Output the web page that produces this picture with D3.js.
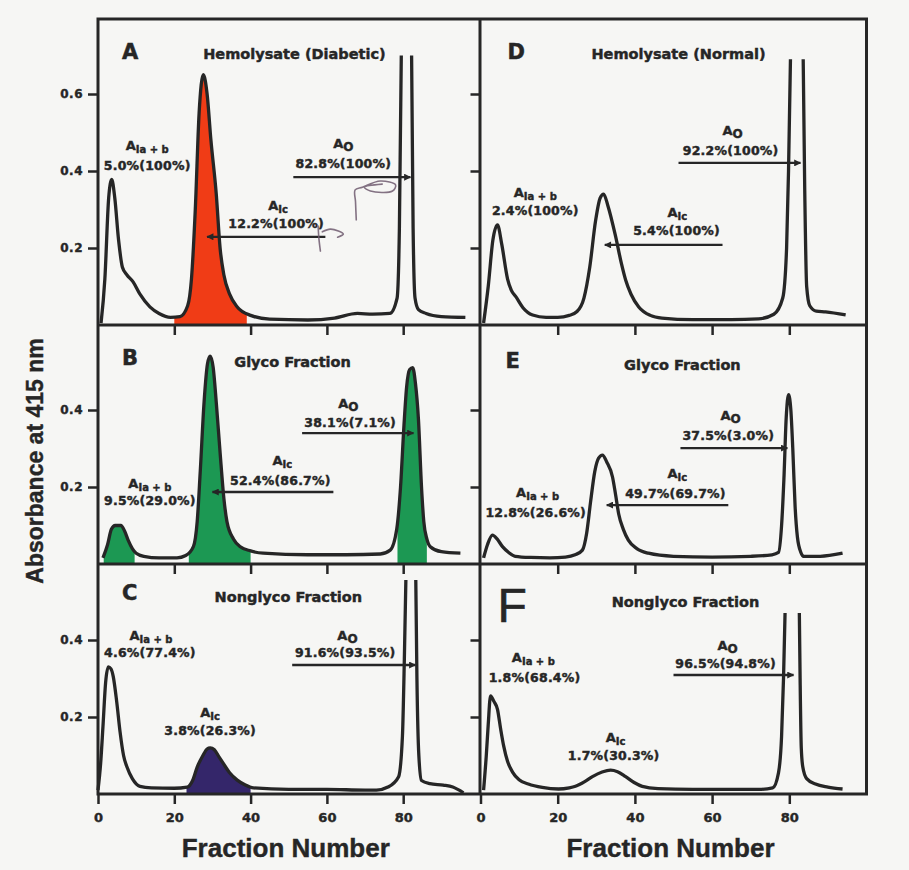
<!DOCTYPE html>
<html>
<head>
<meta charset="utf-8">
<script src="https://cdn.jsdelivr.net/npm/d3@7"></script>
<style>
  html, body { margin: 0; padding: 0; background: #f6f6f4; }
  svg { display: block; }
</style>
</head>
<body>
<svg id="fig" width="909" height="870"></svg>
<script>
// ---- Elution profiles: [fraction number, absorbance at 415 nm]; null breaks an off-scale peak ----
const curveA = [[0.8,0.005],[1.8,0.12],[2.8,0.33],[3.6,0.378],[4.4,0.33],[5.4,0.22],[6.4,0.15],[7.6,0.13],[9.2,0.112],[11,0.08],[13.6,0.047],[16,0.03],[19,0.02],[21.5,0.022],[23.5,0.05],[24.5,0.12],[25.5,0.3],[26.5,0.55],[27.6,0.65],[28.6,0.6],[29.6,0.48],[31,0.34],[32,0.2],[33,0.13],[34.5,0.08],[36.5,0.047],[40,0.025],[45,0.015],[55,0.013],[62,0.018],[68,0.03],[72,0.028],[76.5,0.03],[78.4,0.07],[79.0,0.25],[79.5,0.70],[80.8,null],[82.2,0.70],[82.6,0.25],[83.1,0.07],[84,0.04],[86,0.03],[90,0.022],[96.3,0.02]];
const curveB = [[1.3,0.016],[2.5,0.05],[3.5,0.09],[4.5,0.1],[6,0.1],[7,0.085],[7.9,0.062],[9,0.04],[10,0.028],[12,0.02],[16,0.016],[20.7,0.016],[23,0.022],[25,0.045],[26,0.11],[26.8,0.24],[27.8,0.42],[28.7,0.52],[29.4,0.54],[30.2,0.51],[31,0.42],[32,0.29],[33,0.17],[33.8,0.11],[35.5,0.065],[37.3,0.045],[40,0.034],[43.3,0.028],[55,0.024],[65,0.024],[74,0.026],[76.6,0.036],[78.3,0.09],[79.3,0.2],[80.2,0.36],[80.9,0.46],[81.7,0.505],[82.5,0.51],[83.2,0.47],[84,0.375],[84.8,0.2],[85.4,0.11],[86.2,0.065],[87.1,0.045],[90,0.032],[95,0.028]];
const curveC = [[0,0.01],[0.7,0.08],[1.3,0.175],[2,0.29],[2.7,0.33],[3.4,0.325],[4,0.305],[4.9,0.24],[5.8,0.16],[6.7,0.1],[7.6,0.07],[9,0.04],[11,0.02],[14,0.016],[20,0.015],[23.4,0.018],[24.8,0.035],[26,0.07],[27.5,0.1],[28.6,0.117],[29.4,0.12],[30.5,0.115],[31.8,0.095],[32.8,0.08],[34.5,0.055],[36.5,0.036],[38.5,0.024],[40.7,0.016],[50,0.012],[60,0.012],[70,0.01],[73,0.01],[76,0.018],[78.8,0.045],[79.8,0.15],[80.3,0.35],[80.7,0.556],[82,null],[83.3,0.556],[83.6,0.3],[84.1,0.1],[84.8,0.035],[87,0.027],[90.5,0.023],[93,0.018],[95.8,0.003]];
const curveD = [[0.8,0.005],[2,0.1],[3.2,0.22],[4.4,0.26],[5.5,0.21],[7,0.12],[8,0.09],[9.2,0.073],[11,0.045],[13.5,0.026],[17,0.02],[20,0.02],[23,0.025],[25,0.035],[26.8,0.07],[28.3,0.15],[29.8,0.27],[31,0.33],[31.9,0.34],[33,0.31],[35,0.23],[36.5,0.16],[37.6,0.117],[39,0.08],[41,0.047],[44,0.025],[47,0.018],[55,0.014],[65,0.014],[72,0.016],[76,0.028],[78.3,0.07],[79.3,0.2],[79.8,0.4],[80.3,0.69],[82,null],[83.6,0.69],[84.0,0.35],[84.5,0.1],[85.3,0.05],[87,0.036],[89.4,0.034],[94.6,0.026]];
const curveE = [[0.8,0.016],[1.8,0.05],[3.1,0.075],[4.3,0.065],[5.7,0.045],[7.3,0.03],[9,0.02],[13,0.017],[18,0.016],[22,0.018],[24.5,0.024],[26.4,0.036],[27.5,0.08],[28.5,0.16],[29.6,0.24],[30.6,0.275],[31.6,0.283],[32.7,0.265],[34.2,0.226],[35,0.18],[35.8,0.13],[37,0.09],[38.3,0.062],[40.5,0.04],[43.5,0.028],[50,0.02],[60,0.018],[70,0.02],[75.5,0.024],[77.2,0.03],[78,0.1],[78.6,0.22],[79.2,0.38],[79.8,0.44],[80.4,0.4],[80.9,0.3],[81.5,0.15],[82.1,0.07],[83,0.03],[83.7,0.02],[88,0.02],[93.8,0.028]];
const curveF = [[0.8,0.01],[1.5,0.1],[2,0.18],[2.6,0.255],[3.5,0.24],[4.4,0.22],[5.2,0.17],[6,0.125],[7,0.085],[8.3,0.057],[10,0.037],[12.4,0.026],[16,0.017],[20.2,0.013],[23,0.016],[24.6,0.02],[27,0.032],[29,0.045],[31.5,0.057],[33.7,0.062],[35.5,0.058],[37.6,0.045],[39.8,0.03],[41.9,0.02],[46,0.014],[55,0.012],[65,0.012],[72,0.012],[75.7,0.016],[77.2,0.055],[78.0,0.15],[78.5,0.3],[78.9,0.47],[80.7,null],[82.6,0.47],[82.8,0.3],[83.1,0.12],[83.5,0.07],[84.5,0.04],[86.8,0.026],[90,0.018],[93.8,0.013]];

// ---- Shaded fractions (fraction-number ranges) ----
const shadedA = [[20, 39]];
const shadedB = [[1.5, 9.6], [23.8, 40], [78.5, 86.2]];
const shadedC = [[23.2, 40]];

// ---- Axis ticks ----
const fractionTicks = [0, 20, 40, 60, 80];
const absorbanceTicksTop = [0.2, 0.4, 0.6];
const absorbanceTicksLower = [0.2, 0.4];

// ---- Text ----
const panelLetters = ["A", "B", "C", "D", "E", "F"];
const panelTitles = ["Hemolysate (Diabetic)", "Glyco Fraction", "Nonglyco Fraction",
                     "Hemolysate (Normal)", "Glyco Fraction", "Nonglyco Fraction"];
const valuesA1ab = ["5.0%(100%)", "9.5%(29.0%)", "4.6%(77.4%)", "2.4%(100%)", "12.8%(26.6%)", "1.8%(68.4%)"];
const valuesA1c  = ["12.2%(100%)", "52.4%(86.7%)", "3.8%(26.3%)", "5.4%(100%)", "49.7%(69.7%)", "1.7%(30.3%)"];
const valuesA0   = ["82.8%(100%)", "38.1%(7.1%)", "91.6%(93.5%)", "92.2%(100%)", "37.5%(3.0%)", "96.5%(94.8%)"];

// ---- Pen marks written on panel A (fraction, absorbance) ----
const penStrokeA1 = [[57.7,0.257],[57.9,0.225],[58.3,0.192]];
const penStrokeA2 = [[58.8,0.242],[60.9,0.249],[63.0,0.244],[64.3,0.236],[62.8,0.228]];
const penStrokeA3 = [[67.7,0.273],[67.5,0.32],[67.4,0.351],[69.3,0.358],[74.0,0.374],[78.0,0.364],[77.2,0.348],[71.4,0.348],[69.8,0.358],[74.5,0.366]];

// ---- Layout ----
const W = 909, H = 870;
const colRange = [[98, 479.5], [480.5, 866.5]];
const rowBase = [325, 564, 794];
const rowTop = [19, 325, 564];
const pxPerUnit = 385;
const ink = "#262626";
const labelFont = "'DejaVu Sans', sans-serif";
const axisFont = "'Liberation Sans', Arial, sans-serif";

// Label anchors in data coordinates [fraction, absorbance]; arrows are [from, to, absorbance]
const panels = [
  { col: 0, row: 0, data: curveA, shade: shadedA, shadeColor: "#f03c16",
    letter: [6.3, 0.69], title: [51.5, 0.69],
    ab: { lab: [12.9, 0.455], val: [12.9, 0.403] },
    c:  { lab: [47.2, 0.30],  val: [46.7, 0.252], arrow: [59.6, 28.6, 0.229] },
    o:  { lab: [64.3, 0.46],  val: [64.3, 0.408], arrow: [51.2, 81.9, 0.384] } },
  { col: 0, row: 1, data: curveB, shade: shadedB, shadeColor: "#1c9853",
    letter: [6.3, 0.517], title: [51, 0.512],
    ab: { lab: [13.6, 0.197], val: [13.6, 0.153] },
    c:  { lab: [48.3, 0.257], val: [47.8, 0.205], arrow: [61.7, 30.0, 0.187] },
    o:  { lab: [65.6, 0.405], val: [66.1, 0.356], arrow: [53.5, 82.7, 0.34] } },
  { col: 0, row: 2, data: curveC, shade: shadedC, shadeColor: "#34266a",
    letter: [6.3, 0.504], title: [49.9, 0.499],
    ab: { lab: [13.9, 0.40],  val: [13.6, 0.356] },
    c:  { lab: [29.4, 0.20],  val: [29.4, 0.153] },
    o:  { lab: [65.4, 0.40],  val: [64.8, 0.356], arrow: [50.9, 83.2, 0.335] } },
  { col: 1, row: 0, data: curveD,
    letter: [7, 0.69], title: [51.3, 0.69],
    ab: { lab: [14.2, 0.332], val: [14.2, 0.286] },
    c:  { lab: [51, 0.28],    val: [50.8, 0.234], arrow: [62.7, 32.2, 0.208] },
    o:  { lab: [65.3, 0.494], val: [64.8, 0.442], arrow: [51.3, 82.9, 0.421] } },
  { col: 1, row: 1, data: curveE,
    letter: [6.5, 0.509], title: [52.3, 0.504],
    ab: { lab: [14.8, 0.174], val: [14.3, 0.122] },
    c:  { lab: [51, 0.223],   val: [50.5, 0.171], arrow: [64.2, 32.7, 0.153] },
    o:  { lab: [64.8, 0.374], val: [64.2, 0.322], arrow: [51.8, 79.5, 0.301] } },
  { col: 1, row: 2, data: curveF, bigLetter: true,
    letter: [4.4, 0.447], title: [53.1, 0.486],
    ab: { lab: [13.7, 0.343], val: [14.0, 0.291] },
    c:  { lab: [35, 0.135],   val: [34.5, 0.088] },
    o:  { lab: [64.0, 0.374], val: [63.5, 0.327], arrow: [50.0, 81.1, 0.309] } }
];

const svg = d3.select("#fig");
svg.append("rect").attr("width", W).attr("height", H).attr("fill", "#f6f6f4");

const defs = svg.append("defs");
defs.append("marker")
  .attr("id", "head")
  .attr("viewBox", "0 0 10 10")
  .attr("refX", 9).attr("refY", 5)
  .attr("markerWidth", 9).attr("markerHeight", 7)
  .attr("markerUnits", "userSpaceOnUse")
  .attr("orient", "auto")
  .append("path").attr("d", "M0,0 L10,5 L0,10 Z").attr("fill", ink);

function xScaleFor(col) {
  return d3.scaleLinear().domain([0, 100]).range(colRange[col]);
}
function yScaleFor(row) {
  return d3.scaleLinear().domain([0, 1]).range([rowBase[row], rowBase[row] - pxPerUnit]);
}

// heavy type: fill plus a hairline outline in the same ink
function heavy(sel, w) {
  return sel.attr("fill", ink).attr("stroke", ink).attr("stroke-width", w).attr("paint-order", "stroke");
}

function speciesLabel(g, x, y, sub, subSize) {
  const t = g.append("text")
    .attr("x", x).attr("y", y)
    .attr("text-anchor", "middle")
    .attr("font-family", labelFont).attr("font-weight", "bold")
    .attr("font-size", 13);
  heavy(t, 0.4);
  t.append("tspan").text("A");
  t.append("tspan").attr("dy", 3).attr("font-size", subSize).text(sub);
}
function valueLabel(g, x, y, text) {
  heavy(g.append("text")
    .attr("x", x).attr("y", y)
    .attr("text-anchor", "middle")
    .attr("font-family", labelFont).attr("font-weight", "bold")
    .attr("font-size", 12.5)
    .attr("letter-spacing", 0.2)
    .text(text), 0.45);
}

panels.forEach((p, i) => {
  const x = xScaleFor(p.col);
  const y = yScaleFor(p.row);
  const g = svg.append("g");

  const pts = p.data;
  const line = d3.line()
    .defined(d => d[1] !== null)
    .x(d => x(d[0])).y(d => y(d[1]))
    .curve(d3.curveMonotoneX);

  // shaded fractions under the profile
  if (p.shade) {
    const area = d3.area()
      .defined(d => d[1] !== null)
      .x(d => x(d[0])).y0(y(0)).y1(d => y(d[1]))
      .curve(d3.curveMonotoneX);
    p.shade.forEach((r, k) => {
      const id = "clip" + i + "_" + k;
      defs.append("clipPath").attr("id", id)
        .append("rect")
        .attr("x", x(r[0])).attr("y", rowTop[p.row])
        .attr("width", x(r[1]) - x(r[0]))
        .attr("height", rowBase[p.row] - rowTop[p.row]);
      g.append("path")
        .datum(pts)
        .attr("clip-path", "url(#" + id + ")")
        .attr("d", area)
        .attr("fill", p.shadeColor);
    });
  }

  g.append("path")
    .datum(pts)
    .attr("d", line)
    .attr("fill", "none")
    .attr("stroke", ink)
    .attr("stroke-width", 3.3)
    .attr("stroke-linejoin", "round");

  // panel letter and title
  const letter = g.append("text")
    .attr("x", x(p.letter[0])).attr("y", y(p.letter[1]))
    .attr("font-family", p.bigLetter ? axisFont : labelFont)
    .attr("font-weight", p.bigLetter ? "normal" : "bold")
    .attr("font-size", p.bigLetter ? 48 : 21)
    .text(panelLetters[i]);
  heavy(letter, p.bigLetter ? 0.6 : 0.5);
  heavy(g.append("text")
    .attr("x", x(p.title[0])).attr("y", y(p.title[1]))
    .attr("text-anchor", "middle")
    .attr("font-family", labelFont).attr("font-weight", "bold")
    .attr("font-size", 14.5)
    .text(panelTitles[i]), 0.45);

  // peak annotations
  speciesLabel(g, x(p.ab.lab[0]), y(p.ab.lab[1]), "Ia + b", 10);
  valueLabel(g, x(p.ab.val[0]), y(p.ab.val[1]), valuesA1ab[i]);
  speciesLabel(g, x(p.c.lab[0]), y(p.c.lab[1]), "Ic", 10);
  valueLabel(g, x(p.c.val[0]), y(p.c.val[1]), valuesA1c[i]);
  speciesLabel(g, x(p.o.lab[0]), y(p.o.lab[1]), "O", 12);
  valueLabel(g, x(p.o.val[0]), y(p.o.val[1]), valuesA0[i]);

  [p.c.arrow, p.o.arrow].forEach(a => {
    if (!a) return;
    g.append("line")
      .attr("x1", x(a[0])).attr("x2", x(a[1]))
      .attr("y1", y(a[2])).attr("y2", y(a[2]))
      .attr("stroke", ink).attr("stroke-width", 2.4)
      .attr("marker-end", "url(#head)");
  });

  // handwritten pen marks on panel A
  if (i === 0) {
    const pen = d3.line().x(d => x(d[0])).y(d => y(d[1])).curve(d3.curveCatmullRom);
    [penStrokeA1, penStrokeA2, penStrokeA3].forEach(s => {
      g.append("path").datum(s).attr("d", pen)
        .attr("fill", "none").attr("stroke", "#6e5a6e")
        .attr("stroke-width", 1.6).attr("stroke-linecap", "round").attr("opacity", 0.85);
    });
  }

  // inner fraction ticks along the top edge of lower panels
  if (p.row > 0) {
    const ax = g.append("g")
      .attr("transform", `translate(0,${rowTop[p.row]})`)
      .call(d3.axisBottom(x).tickValues(fractionTicks.filter(v => v > 0)).tickSize(10).tickFormat(""));
    ax.select(".domain").remove();
    ax.selectAll("line").attr("stroke", ink).attr("stroke-width", 2.5);
  }

  // absorbance ticks (left column carries the scale)
  if (p.col === 0) {
    const tv = p.row === 0 ? absorbanceTicksTop : absorbanceTicksLower;
    const axL = g.append("g")
      .attr("transform", `translate(${colRange[0][0]},0)`)
      .call(d3.axisLeft(y).tickValues(tv).tickSize(10).tickPadding(5).tickFormat(d3.format(".1f")));
    axL.select(".domain").remove();
    axL.selectAll("line").attr("stroke", ink).attr("stroke-width", 2.5);
    heavy(axL.selectAll("text")
      .attr("font-family", labelFont).attr("font-weight", "bold")
      .attr("font-size", 12).attr("letter-spacing", 0.5), 0.4);
    const axR = g.append("g")
      .attr("transform", `translate(${colRange[1][0]},0)`)
      .call(d3.axisLeft(y).tickValues(tv).tickSize(10).tickFormat(""));
    axR.select(".domain").remove();
    axR.selectAll("line").attr("stroke", ink).attr("stroke-width", 2.5);
  }

  // fraction-number axis under the bottom panels
  if (p.row === 2) {
    const axB = g.append("g")
      .attr("transform", `translate(0,${rowBase[2]})`)
      .call(d3.axisBottom(x).tickValues(fractionTicks).tickSize(10).tickPadding(9));
    axB.select(".domain").remove();
    axB.selectAll("line").attr("stroke", ink).attr("stroke-width", 2.5);
    heavy(axB.selectAll("text")
      .attr("font-family", labelFont).attr("font-weight", "bold")
      .attr("font-size", 13), 0.4);
    heavy(svg.append("text")
      .attr("x", (colRange[p.col][0] + colRange[p.col][1]) / 2 - 3)
      .attr("y", 857)
      .attr("text-anchor", "middle")
      .attr("font-family", axisFont).attr("font-weight", "bold")
      .attr("font-size", 26)
      .text("Fraction Number"), 0.4);
  }
});

// panel frames
const frame = svg.append("g").attr("fill", "none").attr("stroke", ink).attr("stroke-width", 3);
const fx0 = colRange[0][0], fxm = (colRange[0][1] + colRange[1][0]) / 2, fx1 = colRange[1][1];
frame.append("rect")
  .attr("x", fx0).attr("y", rowTop[0])
  .attr("width", fx1 - fx0).attr("height", rowBase[2] - rowTop[0]);
frame.append("line").attr("x1", fxm).attr("x2", fxm).attr("y1", rowTop[0]).attr("y2", rowBase[2]);
[rowBase[0], rowBase[1]].forEach(yy => {
  frame.append("line").attr("x1", fx0).attr("x2", fx1).attr("y1", yy).attr("y2", yy);
});

// shared absorbance title
heavy(svg.append("text")
  .attr("transform", "translate(43,461) rotate(-90)")
  .attr("text-anchor", "middle")
  .attr("font-family", axisFont).attr("font-weight", "bold")
  .attr("font-size", 23)
  .text("Absorbance at 415 nm"), 0.4);
</script>
</body>
</html>
